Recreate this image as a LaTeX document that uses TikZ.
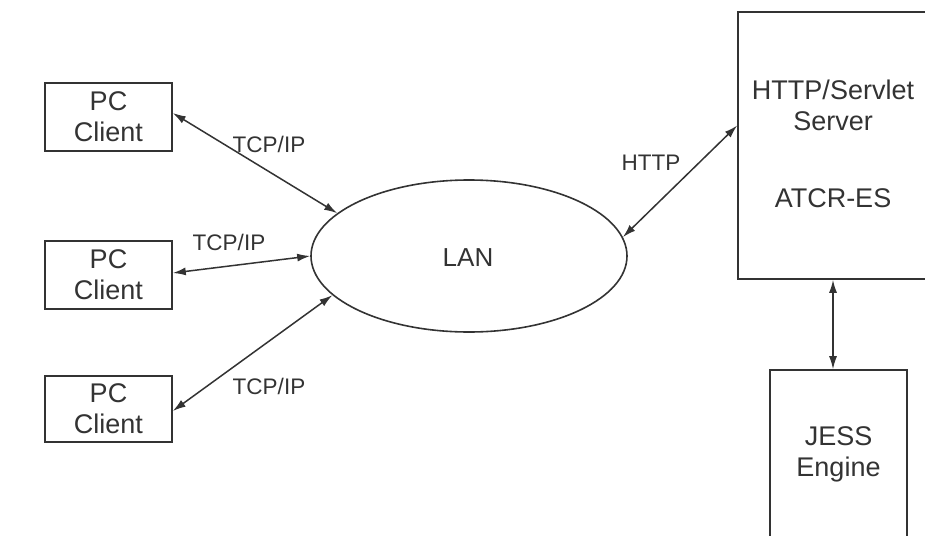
\documentclass[tikz,border=0pt]{standalone}
\usepackage{fontspec}
\setmainfont{Liberation Sans}
\usetikzlibrary{arrows.meta,shapes.geometric}
\definecolor{ink}{HTML}{333333}
\begin{document}
\begin{tikzpicture}[x=1pt,y=-1pt,
  line width=1.6pt, draw=ink, text=ink,
  box/.style={draw=ink, rectangle, inner sep=0pt, line width=1.6pt},
  boxtext/.style={font=\fontsize{27}{31}\selectfont, align=center, inner sep=0pt},
  lbl/.style={font=\fontsize{22.5}{26}\selectfont, inner sep=0pt},
  link/.style={draw=ink, line width=1.5pt, {Latex[length=13pt,width=8pt]}-{Latex[length=13pt,width=8pt]}}]
  \useasboundingbox (0,0) rectangle (925,535);
  \clip (0,0) rectangle (925,535);

  % clients
  \node[box, minimum width=127pt, minimum height=68pt] (pc1) at (108.5,117) {};
  \node[box, minimum width=127pt, minimum height=68pt] (pc2) at (108.5,275) {};
  \node[box, minimum width=127pt, minimum height=66pt] (pc3) at (108.5,409) {};
  \node[boxtext] (t1) at (108.5,117) {PC\\Client};
  \node[boxtext] (t2) at (108.5,275) {PC\\Client};
  \node[boxtext] (t3) at (108.5,409) {PC\\Client};

  % network
  \node[draw=ink, ellipse, line width=1.6pt, minimum width=316pt, minimum height=152pt, inner sep=0pt] (lan) at (469,256) {};
  \node[font=\fontsize{26}{30}\selectfont, inner sep=0pt] (lant) at (468,258) {LAN};

  % server and engine
  \node[box, minimum width=190pt, minimum height=267pt] (srv) at (833,145.5) {};
  \node[boxtext] (srvt) at (833,105) {HTTP/Servlet\\Server};
  \node[boxtext] (atcr) at (833,198) {ATCR-ES};
  \node[box, minimum width=137pt, minimum height=176pt] (jess) at (838.5,458) {};
  \node[boxtext] (jesst) at (838.5,454) {JESS\\Engine};

  % connections
  \draw[link] ([yshift=4pt]pc1.east) -- (lan.162);
  \draw[link] ([yshift=2pt]pc2.east) -- (lan.west);
  \draw[link] ([yshift=-2pt]pc3.east) -- (lan.196);
  \draw[link] (lan.7) -- ([yshift=20pt]srv.west);
  \draw[link] (srv.south) -- (srv.south |- jess.north);

  % protocol labels
  \node[lbl] (l1) at (269,144) {TCP/IP};
  \node[lbl] (l2) at (229,242) {TCP/IP};
  \node[lbl] (l3) at (269,386) {TCP/IP};
  \node[lbl] (l4) at (651,163) {HTTP};
\end{tikzpicture}
\end{document}
